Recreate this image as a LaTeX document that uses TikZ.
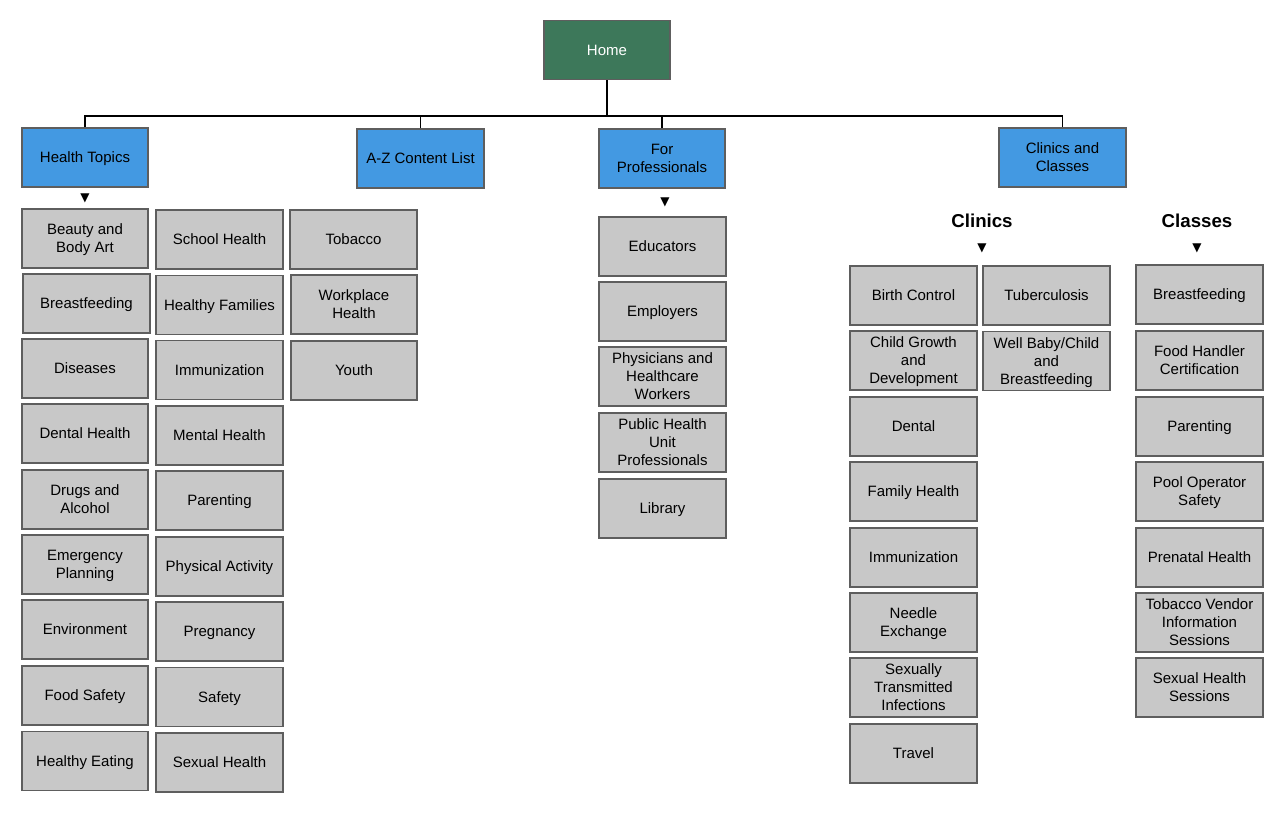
\documentclass[tikz,border=0pt]{standalone}
\usepackage{fontspec}
\setmainfont{Liberation Sans}
\newfontfamily\symfont{DejaVu Sans}
\definecolor{boxgray}{HTML}{C8C8C8}
\definecolor{boxline}{HTML}{5E5E5E}
\definecolor{topblue}{HTML}{4399E2}
\definecolor{homegreen}{HTML}{3D785A}
\begin{document}
\begin{tikzpicture}[x=0.75pt,y=-0.75pt,
  base/.style={draw=boxline, line width=1.3pt, minimum width=95pt, minimum height=44.25pt,
    inner sep=1pt, align=center, text depth=0pt, font=\fontsize{11.25}{13.5}\selectfont, text=black},
  item/.style={base, fill=boxgray},
  topbox/.style={base, fill=topblue},
  homebox/.style={base, fill=homegreen, text=white},
  tri/.style={font=\symfont\fontsize{9}{9}\selectfont, inner sep=0pt},
  head/.style={font=\bfseries\fontsize{14}{16}\selectfont, inner sep=0pt},
  conn/.style={line width=1.1pt, black}]
\useasboundingbox (0,0) rectangle (1283,832);
\fill[white] (0,0) rectangle (1283,832);

\node[homebox] (home) at (607,50) {Home};
\node[topbox] (ht) at (85,157.5) {Health Topics};
\node[topbox] (az) at (420.5,158.5) {A-Z Content List};
\node[topbox] (fp) at (662,158.5) {For\\Professionals};
\node[topbox] (cc) at (1062.5,157.5) {Clinics and\\Classes};

\coordinate (bus) at (607,116);
\draw[conn] (home.south) -- (bus);
\draw[conn] (ht.north) |- (bus);
\draw[conn] (cc.north) |- (bus);
\draw[conn] (az.north) -- (az.north |- bus);
\draw[conn] (fp.north) -- (fp.north |- bus);

\node[tri] (t1) at (85,198) {▼};
\node[tri] (t2) at (665,202) {▼};
\node[tri] (t3) at (982,248) {▼};
\node[tri] (t4) at (1197,248) {▼};
\node[head] (hcl) at (982,221) {Clinics};
\node[head] (hcs) at (1197,221) {Classes};

% Health Topics column 1
\node[item] (a1) at (85,238.5) {Beauty and\\Body Art};
\node[item] (a2) at (86.5,303.5) {Breastfeeding};
\node[item] (a3) at (85,368.5) {Diseases};
\node[item] (a4) at (85,433.5) {Dental Health};
\node[item] (a5) at (85,499.5) {Drugs and\\Alcohol};
\node[item] (a6) at (85,564.5) {Emergency\\Planning};
\node[item] (a7) at (85,629.5) {Environment};
\node[item] (a8) at (85,695.5) {Food Safety};
\node[item] (a9) at (85,761) {Healthy Eating};
% column 2
\node[item] (b1) at (219.5,239.5) {School Health};
\node[item] (b2) at (219.5,305) {Healthy Families};
\node[item] (b3) at (219.5,370) {Immunization};
\node[item] (b4) at (219.5,435.5) {Mental Health};
\node[item] (b5) at (219.5,500.5) {Parenting};
\node[item] (b6) at (219.5,566.5) {Physical Activity};
\node[item] (b7) at (219.5,631.5) {Pregnancy};
\node[item] (b8) at (219.5,697) {Safety};
\node[item] (b9) at (219.5,762.5) {Sexual Health};
% A-Z
\node[item] (c1) at (353.5,239.5) {Tobacco};
\node[item] (c2) at (354,304.5) {Workplace\\Health};
\node[item] (c3) at (354,370.5) {Youth};
% For Professionals
\node[item] (d1) at (662.5,246.5) {Educators};
\node[item] (d2) at (662.5,311.5) {Employers};
\node[item] (d3) at (662.5,376.5) {Physicians and\\Healthcare\\Workers};
\node[item] (d4) at (662.5,442.5) {Public Health\\Unit\\Professionals};
\node[item] (d5) at (662.5,508.5) {Library};
% Clinics col 1
\node[item] (e1) at (913.5,295.5) {Birth Control};
\node[item] (e2) at (913.5,360.5) {Child Growth\\and\\Development};
\node[item] (e3) at (913.5,426.5) {Dental};
\node[item] (e4) at (913.5,491.5) {Family Health};
\node[item] (e5) at (913.5,557.5) {Immunization};
\node[item] (e6) at (913.5,622.5) {Needle\\Exchange};
\node[item] (e7) at (913.5,687.5) {Sexually\\Transmitted\\Infections};
\node[item] (e8) at (913.5,753.5) {Travel};
% Clinics col 2
\node[item] (f1) at (1046.5,295.5) {Tuberculosis};
\node[item] (f2) at (1046.5,361) {Well Baby/Child\\and\\Breastfeeding};
% Classes
\node[item] (g1) at (1199.5,294.5) {Breastfeeding};
\node[item] (g2) at (1199.5,360.5) {Food Handler\\Certification};
\node[item] (g3) at (1199.5,426.5) {Parenting};
\node[item] (g4) at (1199.5,491.5) {Pool Operator\\Safety};
\node[item] (g5) at (1199.5,557.5) {Prenatal Health};
\node[item] (g6) at (1199.5,622.5) {Tobacco Vendor\\Information\\Sessions};
\node[item] (g7) at (1199.5,687.5) {Sexual Health\\Sessions};
\end{tikzpicture}
\end{document}
